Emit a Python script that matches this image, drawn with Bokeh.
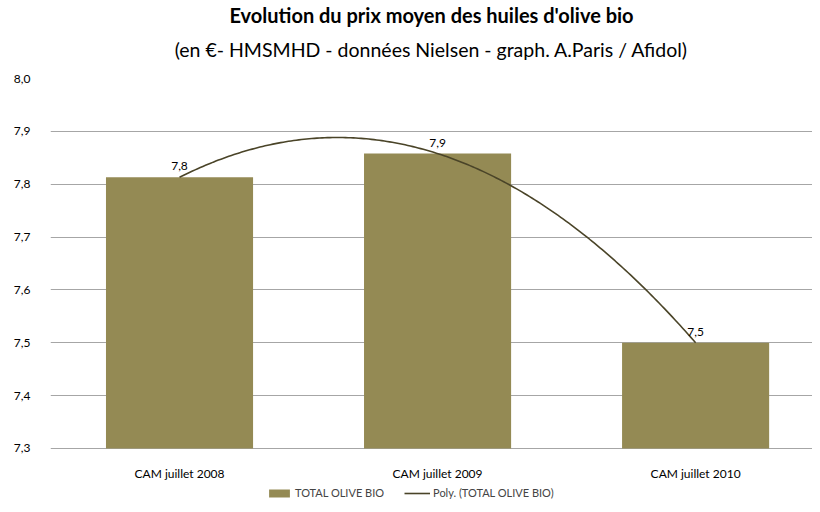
import numpy as np
from bokeh.plotting import figure
from bokeh.models import (Range1d, FixedTicker, CustomJSTickFormatter, Title, Legend,
                          LegendItem, ColumnDataSource, LabelSet)
from bokeh.core.properties import value
from bokeh.embed import file_html
from bokeh.resources import INLINE

categories = ["CAM juillet 2008", "CAM juillet 2009", "CAM juillet 2010"]
values = [7.813, 7.858, 7.50]
value_labels = ["7,8", "7,9", "7,5"]
y_ticks = [7.3, 7.4, 7.5, 7.6, 7.7, 7.8, 7.9, 8.0]

FONT = "Lato"
BAR = "#948A54"
LINE = "#4A4428"

xpos = [i + 0.5 for i in range(len(categories))]
base = y_ticks[0]

# frame extends below the value axis so that category labels and legend live inside it
p = figure(frame_width=762, frame_height=426, output_backend="svg", toolbar_location=None,
           x_range=Range1d(0, 2.953), y_range=Range1d(7.194, 8.0),
           min_border_left=50, min_border_right=0, min_border_top=78, min_border_bottom=0)
p.outline_line_color = None
p.background_fill_color = "white"
p.border_fill_color = "white"

# titles (first added is closest to plot)
p.add_layout(Title(text="(en €- HMSMHD - données Nielsen - graph. A.Paris / Afidol)", align="center",
                   text_font=FONT, text_font_size="19.5px", text_font_style="normal",
                   text_color="#000000", standoff=36), "above")
p.add_layout(Title(text="Evolution du prix moyen des huiles d'olive bio", align="center",
                   text_font=FONT, text_font_size="20px", text_font_style="bold",
                   text_color="#000000", standoff=-18), "above")

src = ColumnDataSource(dict(x=xpos, top=values, lab=value_labels,
                            base=[base] * len(xpos), cat=categories))
bars = p.vbar(x="x", top="top", bottom=base, width=0.57, source=src,
              fill_color=BAR, line_color=None)

# polynomial (order 2) trendline computed from the bar values
coef = np.polyfit(xpos, values, 2)
xs = np.linspace(xpos[0], xpos[-1], 200)
trend = p.line(xs, np.polyval(coef, xs), line_color=LINE, line_width=1.6)

labels = LabelSet(x="x", y="top", text="lab", source=src, text_align="center",
                  text_baseline="bottom", y_offset=7, text_font=value(FONT),
                  text_font_size="12px", text_color="#000000")
p.add_layout(labels)

cat_labels = LabelSet(x="x", y="base", text="cat", source=src, text_align="center",
                      text_baseline="middle", y_offset=-25, text_font=value(FONT),
                      text_font_size="12px", text_color="#000000")
p.add_layout(cat_labels)

# axes
p.yaxis.ticker = FixedTicker(ticks=y_ticks)
p.yaxis.formatter = CustomJSTickFormatter(code="return tick.toFixed(1).replace('.', ',');")
p.yaxis.axis_line_color = None
p.yaxis.major_tick_line_color = None
p.yaxis.minor_tick_line_color = None
p.yaxis.major_tick_out = 0
p.yaxis.major_label_text_font = FONT
p.yaxis.major_label_text_font_size = "12px"
p.yaxis.major_label_text_color = "#000000"
p.yaxis.major_label_standoff = 20

p.xaxis.visible = False

p.xgrid.grid_line_color = None
p.ygrid.grid_line_color = "#A6A6A6"
p.ygrid.grid_line_width = 1

legend = Legend(items=[LegendItem(label="TOTAL OLIVE BIO", renderers=[bars]),
                       LegendItem(label="Poly. (TOTAL OLIVE BIO)", renderers=[trend])],
                orientation="horizontal", location=(216, 5),
                label_text_font=FONT, label_text_font_size="11px",
                glyph_width=26, glyph_height=10, label_height=12, spacing=20, label_standoff=3,
                border_line_color=None, background_fill_alpha=0,
                padding=1, margin=0)
p.add_layout(legend, "center")

open("out.html", "w").write(file_html(p, INLINE))
